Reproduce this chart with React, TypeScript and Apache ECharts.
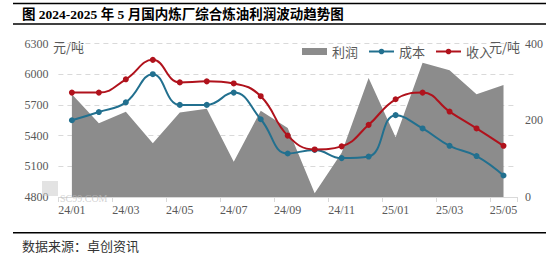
import React, { useEffect, useRef } from "react";
import * as echarts from "echarts";

const months = ["24/01","24/02","24/03","24/04","24/05","24/06","24/07","24/08","24/09","24/10","24/11","24/12","25/01","25/02","25/03","25/04","25/05"];
const income = [5820, 5820, 5950, 6140, 5920, 5930, 5910, 5785, 5400, 5265, 5295, 5505, 5755, 5820, 5635, 5470, 5300];
const cost = [5550, 5630, 5725, 6000, 5700, 5700, 5820, 5560, 5225, 5260, 5180, 5195, 5600, 5470, 5300, 5200, 5010];
const profit = [268, 192, 222, 140, 220, 230, 92, 225, 180, 10, 115, 310, 156, 350, 330, 268, 292];

const leftTicks = { min: 4800, max: 6300, interval: 300 };
const rightTicks = { min: 0, max: 400, interval: 200 };

const title = "图 2024-2025 年 5 月国内炼厂综合炼油利润波动趋势图";
const source = "数据来源：卓创资讯";
const unit = "元/吨";

const NUM_FONT = '"Liberation Serif", "Noto Sans CJK SC", serif';
const CJK_FONT = '"Noto Sans CJK SC", sans-serif';
const RED = "#b0121c";
const BLUE = "#22708f";
const GRAY = "#8c8c8c";
const LABEL = "#595959";

export default function App() {
  const ref = useRef<HTMLDivElement>(null);
  useEffect(() => {
    if (!ref.current) return;
    const chart = echarts.init(ref.current, null, { renderer: "svg" });
    chart.setOption({
      animation: false,
      backgroundColor: "#ffffff",
      grid: { left: 58.4, right: 25.4, top: 43.5, bottom: 57, containLabel: false },
      legend: {
        left: 297,
        top: 40,
        itemWidth: 25,
        itemHeight: 7,
        itemGap: 10,
        textStyle: { color: LABEL, fontSize: 13, fontFamily: CJK_FONT },
        data: [{ name: "利润", icon: "rect" }, { name: "成本" }, { name: "收入" }],
      },
      xAxis: {
        type: "category",
        data: months,
        boundaryGap: true,
        axisLine: { show: true, lineStyle: { color: "#d9d9d9" } },
        axisTick: { show: true, interval: 1, length: 5, lineStyle: { color: "#d9d9d9" } },
        axisLabel: { interval: 1, color: LABEL, fontSize: 12, fontFamily: NUM_FONT, margin: 7 },
      },
      yAxis: [
        {
          type: "value",
          min: leftTicks.min,
          max: leftTicks.max,
          interval: leftTicks.interval,
          axisLine: { show: false },
          axisTick: { show: false },
          axisLabel: { color: LABEL, fontSize: 12, fontFamily: NUM_FONT, margin: 10, formatter: (v: number) => String(v) },
          splitLine: { show: true, lineStyle: { color: "#d9d9d9", type: [5, 4] } },
        },
        {
          type: "value",
          min: rightTicks.min,
          max: rightTicks.max,
          interval: rightTicks.interval,
          position: "right",
          axisLine: { show: false },
          axisTick: { show: false },
          axisLabel: { color: LABEL, fontSize: 12, fontFamily: NUM_FONT, margin: 8, formatter: (v: number) => String(v) },
          splitLine: { show: false },
        },
      ],
      series: [
        {
          name: "利润",
          type: "line",
          yAxisIndex: 1,
          data: profit,
          showSymbol: false,
          symbol: "none",
          lineStyle: { width: 0 },
          itemStyle: { color: GRAY },
          areaStyle: { color: GRAY, opacity: 1 },
          z: 1,
        },
        {
          name: "成本",
          type: "line",
          data: cost,
          smooth: 0.45,
          symbol: "circle",
          symbolSize: 6,
          showSymbol: true,
          lineStyle: { width: 2, color: BLUE },
          itemStyle: { color: BLUE },
          z: 3,
        },
        {
          name: "收入",
          type: "line",
          data: income,
          smooth: 0.45,
          symbol: "circle",
          symbolSize: 6,
          showSymbol: true,
          lineStyle: { width: 2, color: RED },
          itemStyle: { color: RED },
          z: 4,
        },
      ],
      graphic: [
        { type: "line", shape: { x1: 13, y1: 3.5, x2: 546, y2: 3.5 }, style: { stroke: "#000", lineWidth: 1.5 } },
        { type: "line", shape: { x1: 13, y1: 24, x2: 546, y2: 24 }, style: { stroke: "#000", lineWidth: 1.5 } },
        { type: "line", shape: { x1: 13, y1: 232.7, x2: 546, y2: 232.7 }, style: { stroke: "#000", lineWidth: 1.5 } },
        {
          type: "text",
          x: 22,
          y: 14,
          style: { text: title, fill: "#000", font: 'bold 13.5px ' + NUM_FONT, align: "left", verticalAlign: "middle" },
        },
        {
          type: "text",
          x: 22,
          y: 245,
          style: { text: source, fill: "#333", font: "13px " + CJK_FONT, align: "left", verticalAlign: "middle" },
        },
        {
          type: "text",
          x: 53,
          y: 46,
          style: { text: unit, fill: LABEL, font: "13px " + CJK_FONT, align: "left", verticalAlign: "middle" },
        },
        {
          type: "text",
          x: 489,
          y: 46,
          style: { text: unit, fill: LABEL, font: "13px " + CJK_FONT, align: "left", verticalAlign: "middle" },
        },
        {
          type: "rect",
          shape: { x: 42, y: 181, width: 16, height: 15 },
          style: { fill: "rgba(200,200,200,0.5)" },
          z: 10,
        },
        {
          type: "text",
          x: 60,
          y: 198.5,
          style: { text: "SC99.COM", fill: "rgba(190,190,190,0.7)", font: "10px " + NUM_FONT, align: "left", verticalAlign: "middle" },
          z: 10,
        },
      ],
    });
    return () => chart.dispose();
  }, []);
  return (
    <div
      ref={ref}
      style={{ position: "fixed", left: 0, top: 0, width: 546, height: 254 }}
    />
  );
}
